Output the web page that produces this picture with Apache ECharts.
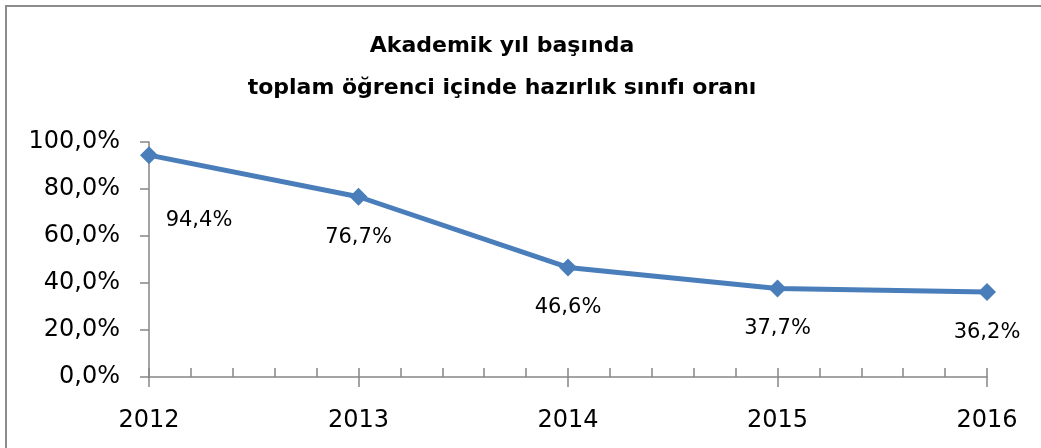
<!DOCTYPE html>
<html>
<head>
<meta charset="utf-8">
<script src="https://cdn.jsdelivr.net/npm/echarts@6/dist/echarts.min.js"></script>
<style>
  html, body { margin: 0; padding: 0; background: #fff; }
  #chart { width: 1041px; height: 448px; }
</style>
</head>
<body>
<div id="chart"></div>
<script>
// chart data
var years = [2012, 2013, 2014, 2015, 2016]
var ratios = [94.4, 76.7, 46.6, 37.7, 36.2]
var titleLines = ['Akademik yıl başında', 'toplam öğrenci içinde hazırlık sınıfı oranı']

var fontFamily = 'DejaVu Sans'
var axisGray = '#868686'

function pct(v) {
  return v.toFixed(1).replace('.', ',') + '%'
}

var points = years.map(function (y, i) {
  var item = { value: [y, ratios[i]] }
  // first label was nudged off to the right in the original
  if (i === 0) {
    item.label = { offset: [50, 25] }
  }
  return item
})

var chart = echarts.init(document.getElementById('chart'))
chart.setOption({
  animation: false,
  title: {
    text: titleLines.join('\n'),
    left: 497, // title sits a bit left of centre in the original
    textAlign: 'center',
    top: 20,
    textStyle: {
      fontFamily: fontFamily,
      fontWeight: 'bold',
      fontSize: 22,
      lineHeight: 42,
      color: '#000'
    }
  },
  graphic: [{
    type: 'rect',
    shape: { x: 6, y: 6, width: 1100, height: 500 },
    style: { fill: 'none', stroke: '#8c8c8c', lineWidth: 2 },
    silent: true
  }],
  grid: {
    left: 149,
    right: 54,
    top: 142,
    bottom: 71
  },
  xAxis: [{
    type: 'value',
    min: 2012,
    max: 2016,
    interval: 1,
    axisLine: { lineStyle: { color: axisGray, width: 1.5 } },
    axisTick: { show: true, length: 10, lineStyle: { color: axisGray, width: 1.5 } },
    axisLabel: {
      margin: 32,
      fontFamily: fontFamily,
      fontSize: 24,
      color: '#000',
      formatter: function (v) { return String(v) }
    },
    splitLine: { show: false }
  }, {
    // inner ticks between years
    type: 'value',
    position: 'bottom',
    min: 2012,
    max: 2016,
    interval: 0.2,
    axisLine: { show: false },
    axisTick: { show: true, inside: true, length: 9, lineStyle: { color: axisGray, width: 1.5 } },
    axisLabel: { show: false },
    splitLine: { show: false }
  }],
  yAxis: {
    type: 'value',
    min: 0,
    max: 100,
    interval: 20,
    axisLine: { show: true, lineStyle: { color: axisGray, width: 1.5 } },
    axisTick: { show: true, length: 9, lineStyle: { color: axisGray, width: 1.5 } },
    axisLabel: {
      margin: 29,
      fontFamily: fontFamily,
      fontSize: 24,
      color: '#000',
      formatter: function (v) { return pct(v) }
    },
    splitLine: { show: false }
  },
  series: [{
    type: 'line',
    xAxisIndex: 0,
    data: points,
    symbol: 'diamond',
    symbolSize: 18,
    itemStyle: { color: '#4a7ebb' },
    lineStyle: { color: '#4a7ebb', width: 5 },
    label: {
      show: true,
      position: 'bottom',
      distance: 21,
      fontFamily: fontFamily,
      fontSize: 21,
      color: '#000',
      formatter: function (p) { return pct(p.value[1]) }
    }
  }]
})
</script>
</body>
</html>
